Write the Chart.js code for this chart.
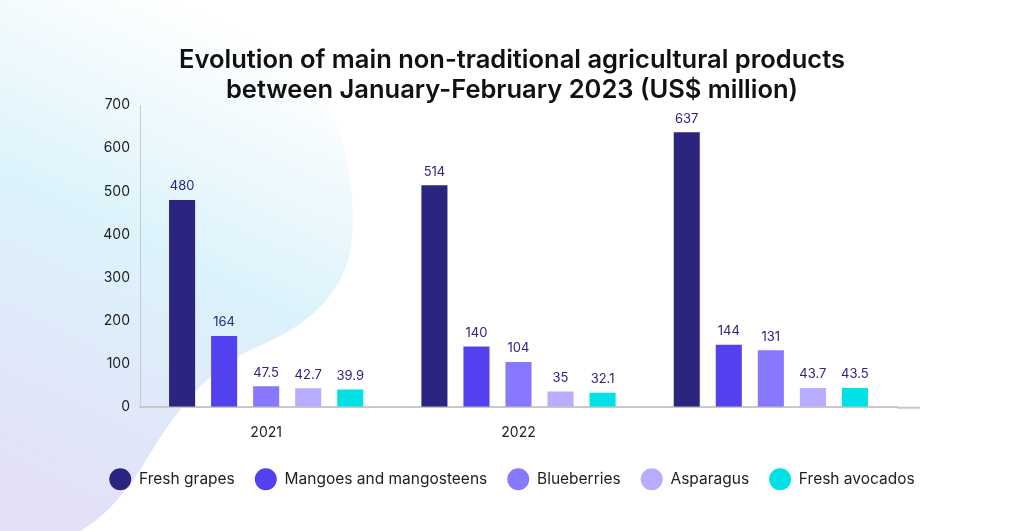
<!DOCTYPE html>
<html>
<head>
<meta charset="utf-8">
<script src="https://cdn.jsdelivr.net/npm/chart.js@4/dist/chart.umd.min.js"></script>
<style>
  html, body { margin: 0; padding: 0; background: #fff; }
  #wrap { width: 1024px; height: 531px; position: relative; }
</style>
</head>
<body>
<div id="wrap"><canvas id="chart" width="1024" height="531"></canvas></div>
<script>
// data
const years = ['2021', '2022', ''];
const freshGrapes = [480, 514, 637];
const mangoes = [164, 140, 144];
const blueberries = [47.5, 104, 131];
const asparagus = [42.7, 35, 43.7];
const avocados = [39.9, 32.1, 43.5];
const yTicks = [0, 100, 200, 300, 400, 500, 600, 700];

const seriesNames = ['Fresh grapes', 'Mangoes and mangosteens', 'Blueberries', 'Asparagus', 'Fresh avocados'];
const seriesValues = [freshGrapes, mangoes, blueberries, asparagus, avocados];
const colors = ['#2b2580', '#5340ee', '#8778ff', '#b7adff', '#00e1e6'];

const fontName = 'Inter, "Open Sans", sans-serif';

// pale blob in the background on the left
const blobPlugin = {
    id: 'blob',
    beforeDraw(c) {
        const ctx = c.ctx;
        ctx.save();
        const g = ctx.createLinearGradient(260, 40, 40, 500);
        g.addColorStop(0, '#ffffff');
        g.addColorStop(0.45, '#dcf3fb');
        g.addColorStop(1, '#e3e0f8');
        ctx.fillStyle = g;
        ctx.beginPath();
        ctx.moveTo(0, 0);
        ctx.lineTo(200, 0);
        ctx.bezierCurveTo(320, 30, 360, 150, 352, 240);
        ctx.bezierCurveTo(345, 300, 300, 330, 250, 350);
        ctx.bezierCurveTo(200, 375, 170, 420, 140, 470);
        ctx.bezierCurveTo(120, 500, 100, 520, 80, 531);
        ctx.lineTo(0, 531);
        ctx.closePath();
        ctx.fill();
        ctx.restore();
    }
};

// value above each bar + the x axis line runs a bit past the last group
const valueLabels = {
    id: 'valueLabels',
    afterDatasetsDraw(c) {
        const ctx = c.ctx;
        const area = c.chartArea;
        ctx.save();
        ctx.strokeStyle = '#c8c8c8';
        ctx.lineWidth = 2;
        ctx.beginPath();
        ctx.moveTo(area.right, area.bottom + 1);
        ctx.lineTo(area.right + 23, area.bottom + 1);
        ctx.stroke();

        ctx.font = '13px ' + fontName;
        ctx.fillStyle = '#2b2580';
        ctx.textAlign = 'center';
        ctx.textBaseline = 'bottom';
        c.data.datasets.forEach((ds, i) => {
            c.getDatasetMeta(i).data.forEach((bar, j) => {
                ctx.fillText(String(ds.data[j]), bar.x, bar.y - 7);
            });
        });
        ctx.restore();
    }
};

const chart = new Chart(document.getElementById('chart'), {
    type: 'bar',
    data: {
        labels: years,
        datasets: seriesNames.map((name, i) => ({
            label: name,
            data: seriesValues[i],
            backgroundColor: colors[i],
            borderWidth: 0,
            categoryPercentage: 0.833,
            barPercentage: 0.62
        }))
    },
    options: {
        responsive: false,
        animation: false,
        layout: { padding: { left: 0, right: 0, top: 30, bottom: 34 } },
        plugins: {
            title: {
                display: true,
                text: ['Evolution of main non-traditional agricultural products', 'between January-February 2023 (US$ million)'],
                color: '#111',
                font: { family: fontName, size: 25.5, weight: '600', lineHeight: 1.18 },
                padding: { top: 15, bottom: 0 }
            },
            legend: {
                position: 'bottom',
                labels: {
                    usePointStyle: true,
                    pointStyle: 'circle',
                    pointStyleWidth: 22,
                    color: '#222',
                    padding: 20,
                    font: { family: fontName, size: 15.5 }
                }
            },
            tooltip: { enabled: false }
        },
        scales: {
            x: {
                grid: { display: false, drawTicks: false },
                border: { color: '#c8c8c8', width: 2 },
                ticks: { color: '#222', padding: 18, font: { family: fontName, size: 14 } },
                afterFit: (s) => { s.height -= 8; }
            },
            y: {
                min: 0,
                max: 700,
                afterBuildTicks: (s) => { s.ticks = yTicks.map(v => ({ value: v })); },
                grid: { display: false, drawTicks: false },
                border: { color: '#c8c8c8', width: 1 },
                ticks: { color: '#222', padding: 10, font: { family: fontName, size: 14 } },
                afterFit: (s) => { s.width = 140; }
            },
            // empty right-hand axis, only keeps room on the right side
            yRight: {
                position: 'right',
                grid: { display: false, drawTicks: false },
                border: { display: false },
                ticks: { display: false },
                afterFit: (s) => { s.width = 127; }
            }
        }
    },
    plugins: [blobPlugin, valueLabels]
});
</script>
</body>
</html>
